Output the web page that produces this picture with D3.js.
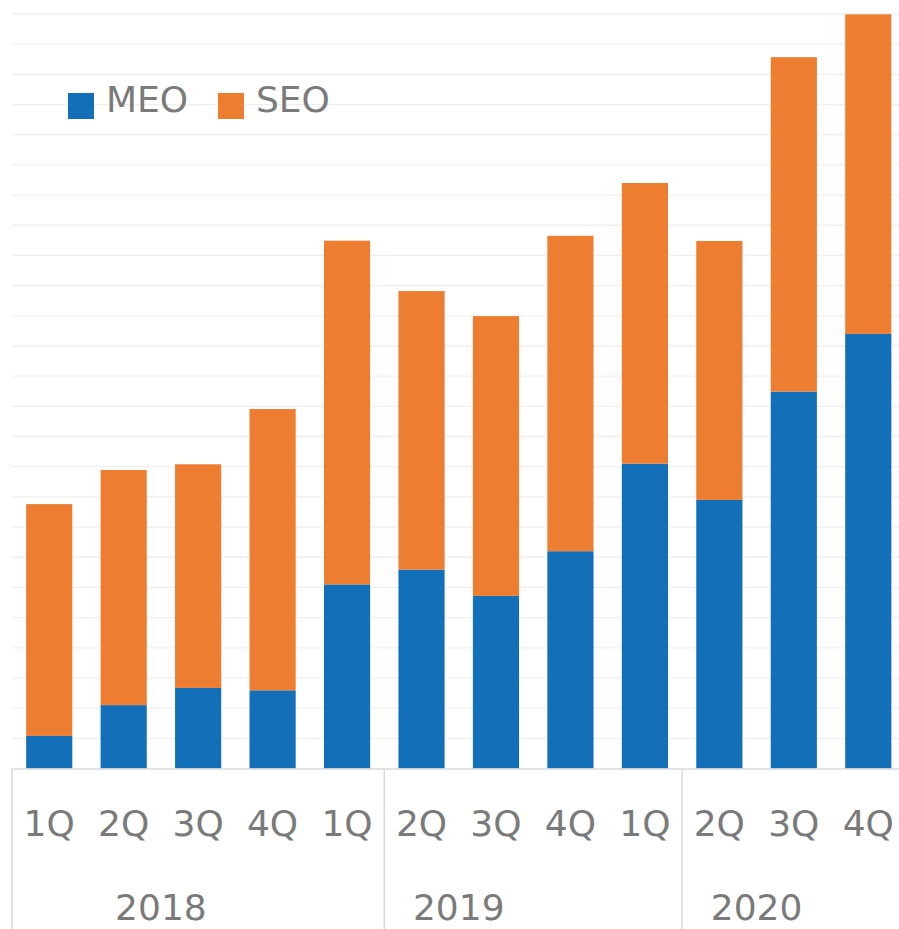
<!DOCTYPE html>
<html>
<head>
<meta charset="utf-8">
<script src="https://cdn.jsdelivr.net/npm/d3@7"></script>
<style>
  body { margin: 0; background: #fff; }
  text { font-family: "DejaVu Sans", Verdana, sans-serif; fill: #7a7a7a; }
</style>
</head>
<body>
<svg id="chart" width="899" height="929"></svg>
<script>
// quarters as they appear on the axis
const quarters = ["1Q", "2Q", "3Q", "4Q", "1Q", "2Q", "3Q", "4Q", "1Q", "2Q", "3Q", "4Q"];
const years = ["2018", "2019", "2020"];
const meo = [1.08, 2.10, 2.67, 2.59, 6.10, 6.59, 5.72, 7.20, 10.10, 8.90, 12.49, 14.40];
const seo = [7.68, 7.79, 7.41, 9.32, 11.39, 9.23, 9.27, 10.45, 9.30, 8.58, 11.08, 10.59];
const seriesNames = ["MEO", "SEO"];
const colors = ["#1370b8", "#ed7d31"];

let svg = d3.select("#chart");
let margin = {left: 12, top: 14, bottom: 768.5};

let ids = quarters.map((q, i) => i);
let xScale = d3.scaleBand()
               .domain(ids)
               .range([margin.left, 905.5])
               .paddingInner(0.38)
               .paddingOuter(0.19);

let yScale = d3.scaleLinear()
               .domain([0, 25])
               .range([margin.bottom, margin.top]);

// gridlines
svg.append("g")
   .selectAll("line")
   .data(d3.range(1, 26))
   .enter().append("line")
   .attr("x1", margin.left)
   .attr("x2", 899)
   .attr("y1", d => yScale(d))
   .attr("y2", d => yScale(d))
   .attr("stroke", "#efefef")
   .attr("stroke-width", 1.3);

// stacked bars
let rows = ids.map(i => ({id: i, MEO: meo[i], SEO: seo[i]}));
let stacked = d3.stack().keys(seriesNames)(rows);

svg.append("g")
   .selectAll("g")
   .data(stacked)
   .enter().append("g")
   .attr("fill", (d, i) => colors[i])
   .selectAll("rect")
   .data(d => d)
   .enter().append("rect")
   .attr("x", d => xScale(d.data.id))
   .attr("width", xScale.bandwidth())
   .attr("y", d => yScale(d[1]))
   .attr("height", d => yScale(d[0]) - yScale(d[1]));

// axis line and group dividers
let axisG = svg.append("g").attr("stroke", "#d9d9d9").attr("stroke-width", 1.5);
axisG.append("line")
     .attr("x1", margin.left).attr("x2", 899)
     .attr("y1", margin.bottom + 0.5).attr("y2", margin.bottom + 0.5);

let gap = xScale.step() - xScale.bandwidth();
let dividers = [margin.left, xScale(5) - gap / 2, xScale(9) - gap / 2];
axisG.selectAll("line.div")
     .data(dividers)
     .enter().append("line")
     .attr("class", "div")
     .attr("x1", d => d).attr("x2", d => d)
     .attr("y1", margin.bottom).attr("y2", 929);

// quarter labels
svg.append("g")
   .selectAll("text")
   .data(quarters)
   .enter().append("text")
   .attr("x", (d, i) => xScale(i) + xScale.bandwidth() / 2)
   .attr("y", 836)
   .attr("text-anchor", "middle")
   .style("font-size", "36px")
   .text(d => d);

// year labels, centered over each run of four bars
svg.append("g")
   .selectAll("text")
   .data(years)
   .enter().append("text")
   .attr("x", (d, i) => (xScale(i * 4) + xScale(i * 4 + 3) + xScale.bandwidth()) / 2)
   .attr("y", 920)
   .attr("text-anchor", "middle")
   .style("font-size", "36px")
   .text(d => d);

// legend
let legend = svg.append("g");
let legendX = [68, 218];
seriesNames.forEach((name, i) => {
    legend.append("rect")
          .attr("x", legendX[i]).attr("y", 93)
          .attr("width", 26).attr("height", 26)
          .attr("fill", colors[i]);
    legend.append("text")
          .attr("x", legendX[i] + 38).attr("y", 112)
          .style("font-size", "36px")
          .text(name);
});
</script>
</body>
</html>
